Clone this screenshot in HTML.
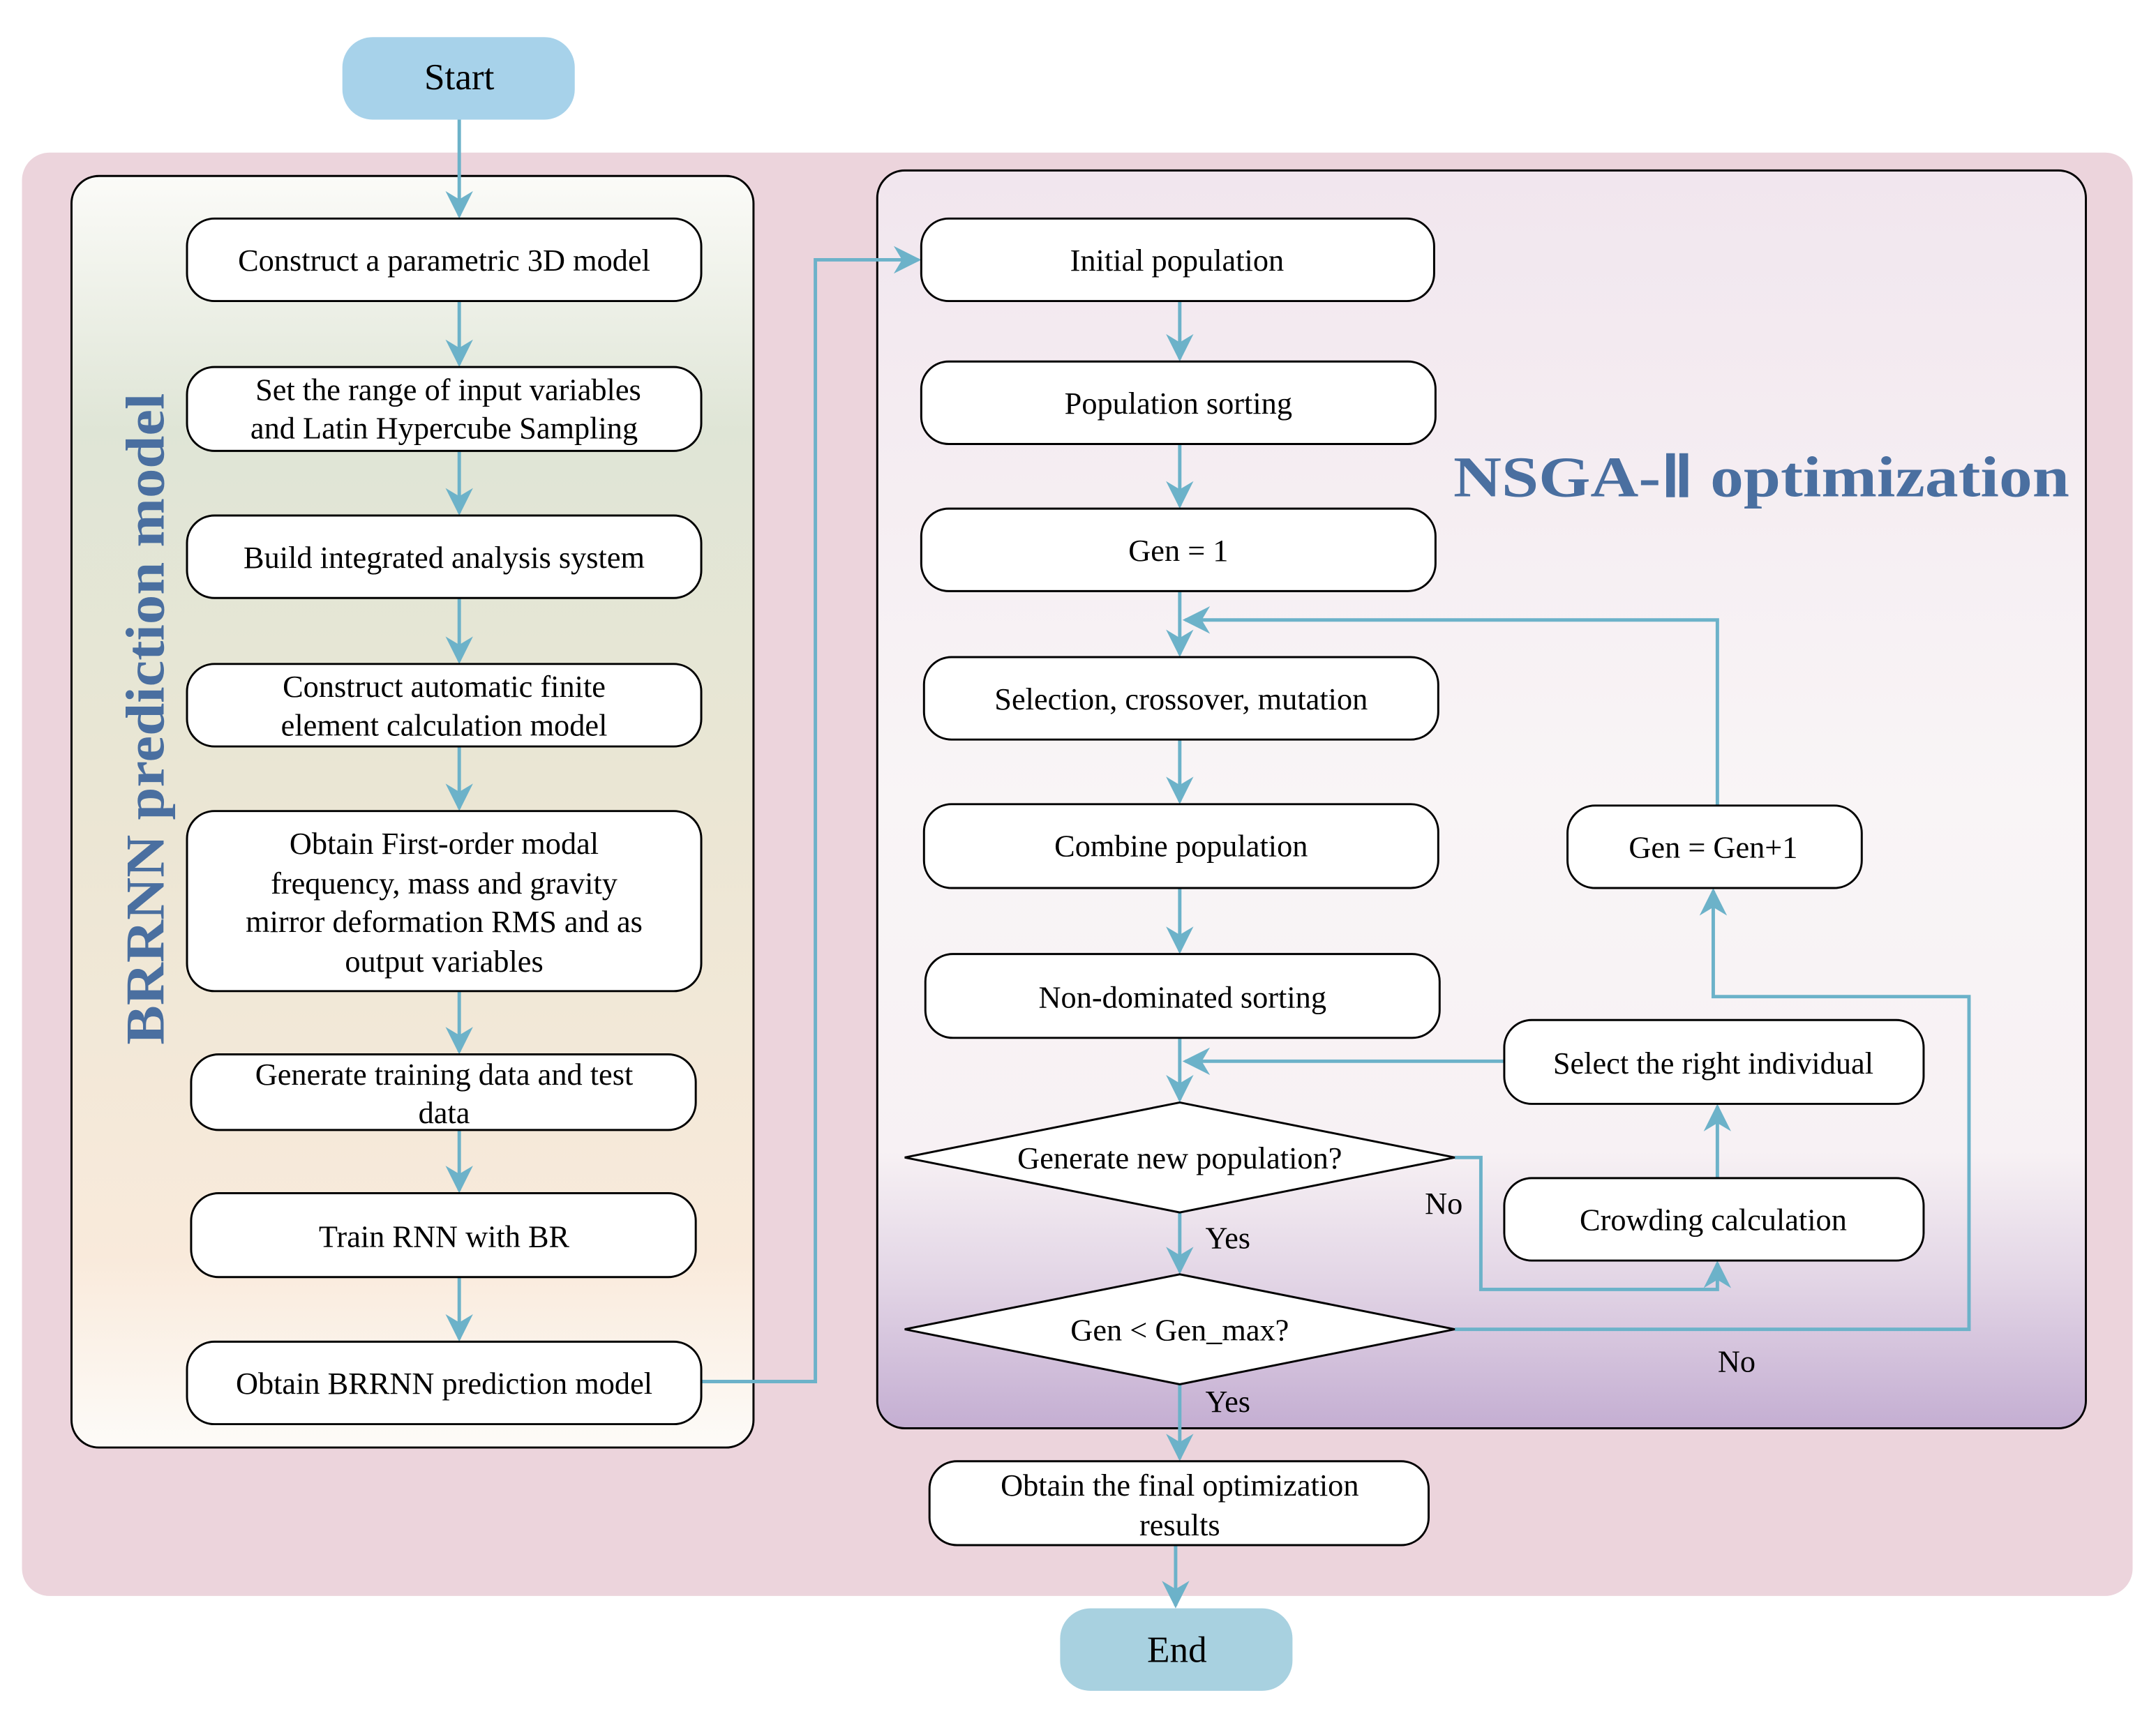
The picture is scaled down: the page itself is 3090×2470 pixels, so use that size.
<!DOCTYPE html>
<html><head><meta charset="utf-8"><style>html,body{margin:0;padding:0;background:#fff}svg{display:block}</style></head>
<body>
<svg width="3090" height="2470" viewBox="0 0 1568 1253.4" preserveAspectRatio="none" xmlns="http://www.w3.org/2000/svg" font-family="'Liberation Serif', serif">
<defs>
<linearGradient id="gl" x1="0" y1="0" x2="0" y2="1">
<stop offset="0" stop-color="#fbfbf8"/><stop offset="0.2" stop-color="#dfe5d6"/><stop offset="0.5" stop-color="#ebe6d4"/><stop offset="0.85" stop-color="#f9eadb"/><stop offset="1" stop-color="#fdfbf8"/></linearGradient>
<linearGradient id="gr" x1="0" y1="0" x2="0" y2="1">
<stop offset="0" stop-color="#f1e6ee"/><stop offset="0.5" stop-color="#f9f5f6"/><stop offset="0.78" stop-color="#f7f1f4"/><stop offset="0.88" stop-color="#e3d6e6"/><stop offset="1" stop-color="#c4aed2"/></linearGradient>
<marker id="b" viewBox="0 0 10 10" refX="9" refY="5" markerWidth="20" markerHeight="20" markerUnits="userSpaceOnUse" orient="auto"><path d="M0,0 L10,5 L0,10 L3,5z" fill="#6cb2c9"/></marker>
</defs>
<rect x="249" y="27" width="169" height="60" rx="22" fill="#a7d2ea"/>
<text x="334" y="65" font-size="27" text-anchor="middle">Start</text>
<rect x="16" y="111" width="1535" height="1050" rx="20" fill="#ecd4dc"/>
<rect x="52" y="128" width="496" height="925" rx="20" fill="url(#gl)" stroke="#000" stroke-width="1.5"/>
<rect x="638" y="124" width="879" height="915" rx="20" fill="url(#gr)" stroke="#000" stroke-width="1.5"/>
<text transform="translate(119,523) rotate(-90)" font-size="40" font-weight="bold" fill="#4a6fa0" text-anchor="middle" textLength="474" lengthAdjust="spacingAndGlyphs">BRRNN prediction model</text>
<text x="1057" y="361" font-size="42" font-weight="bold" fill="#4a6fa0" textLength="448" lengthAdjust="spacingAndGlyphs">NSGA-Ⅱ optimization</text>
<g fill="none" stroke="#6cb2c9" stroke-width="2.5">
<path d="M334 87V157" marker-end="url(#b)"/>
<path d="M334 219V265" marker-end="url(#b)"/>
<path d="M334 328V373" marker-end="url(#b)"/>
<path d="M334 435V481" marker-end="url(#b)"/>
<path d="M334 543V588" marker-end="url(#b)"/>
<path d="M334 721V765" marker-end="url(#b)"/>
<path d="M334 822V866" marker-end="url(#b)"/>
<path d="M334 929V974" marker-end="url(#b)"/>
<path d="M510 1005H593V189H668" marker-end="url(#b)"/>
<path d="M858 219V261" marker-end="url(#b)"/>
<path d="M858 323V368" marker-end="url(#b)"/>
<path d="M858 430V476" marker-end="url(#b)"/>
<path d="M858 538V583" marker-end="url(#b)"/>
<path d="M858 646V692" marker-end="url(#b)"/>
<path d="M858 755V800" marker-end="url(#b)"/>
<path d="M858 882V925" marker-end="url(#b)"/>
<path d="M858 1007V1061" marker-end="url(#b)"/>
<path d="M855 1124V1168" marker-end="url(#b)"/>
<path d="M1249 586V451H862" marker-end="url(#b)"/>
<path d="M1094 772H862" marker-end="url(#b)"/>
<path d="M1058 842H1077V938H1249V919" marker-end="url(#b)"/>
<path d="M1249 857V805" marker-end="url(#b)"/>
<path d="M1058 967H1432V725H1246V648" marker-end="url(#b)"/>
</g>
<g fill="#fff" stroke="#000" stroke-width="1.5">
<rect x="136" y="159" width="374" height="60" rx="20"/>
<rect x="136" y="267" width="374" height="61" rx="20"/>
<rect x="136" y="375" width="374" height="60" rx="20"/>
<rect x="136" y="483" width="374" height="60" rx="20"/>
<rect x="136" y="590" width="374" height="131" rx="20"/>
<rect x="139" y="767" width="367" height="55" rx="20"/>
<rect x="139" y="868" width="367" height="61" rx="20"/>
<rect x="136" y="976" width="374" height="60" rx="20"/>
<rect x="670" y="159" width="373" height="60" rx="20"/>
<rect x="670" y="263" width="374" height="60" rx="20"/>
<rect x="670" y="370" width="374" height="60" rx="20"/>
<rect x="672" y="478" width="374" height="60" rx="20"/>
<rect x="672" y="585" width="374" height="61" rx="20"/>
<rect x="673" y="694" width="374" height="61" rx="20"/>
<rect x="1140" y="586" width="214" height="60" rx="20"/>
<rect x="1094" y="742" width="305" height="61" rx="20"/>
<rect x="1094" y="857" width="305" height="60" rx="20"/>
<rect x="676" y="1063" width="363" height="61" rx="20"/>
<path d="M658 842L858 802L1058 842L858 882Z"/>
<path d="M658 967L858 927L1058 967L858 1007Z"/>
</g>
<rect x="771" y="1170" width="169" height="60" rx="22" fill="#a8d1e0"/>
<g font-size="22.5" text-anchor="middle" fill="#000">
<text x="323" y="197">Construct a parametric 3D model</text>
<text x="326" y="291">Set the range of input variables</text>
<text x="323" y="319">and Latin Hypercube Sampling</text>
<text x="323" y="413">Build integrated analysis system</text>
<text x="323" y="507">Construct automatic finite</text>
<text x="323" y="535">element calculation model</text>
<text x="323" y="621">Obtain First-order modal</text>
<text x="323" y="650">frequency, mass and gravity</text>
<text x="323" y="678">mirror deformation RMS and as</text>
<text x="323" y="707">output variables</text>
<text x="323" y="789">Generate training data and test</text>
<text x="323" y="817">data</text>
<text x="323" y="907">Train RNN with BR</text>
<text x="323" y="1014">Obtain BRRNN prediction model</text>
<text x="856" y="197">Initial population</text>
<text x="857" y="301">Population sorting</text>
<text x="857" y="408">Gen = 1</text>
<text x="859" y="516">Selection, crossover, mutation</text>
<text x="859" y="623">Combine population</text>
<text x="860" y="733">Non-dominated sorting</text>
<text x="858" y="850">Generate new population?</text>
<text x="858" y="975">Gen &lt; Gen_max?</text>
<text x="1246" y="624">Gen = Gen+1</text>
<text x="1246" y="781">Select the right individual</text>
<text x="1246" y="895">Crowding calculation</text>
<text x="858" y="1088">Obtain the final optimization</text>
<text x="858" y="1117">results</text>
<text x="1050" y="883">No</text>
<text x="893" y="908">Yes</text>
<text x="893" y="1027">Yes</text>
<text x="1263" y="998">No</text>
<text x="856" y="1209" font-size="27">End</text>
</g>
</svg>
</body></html>
